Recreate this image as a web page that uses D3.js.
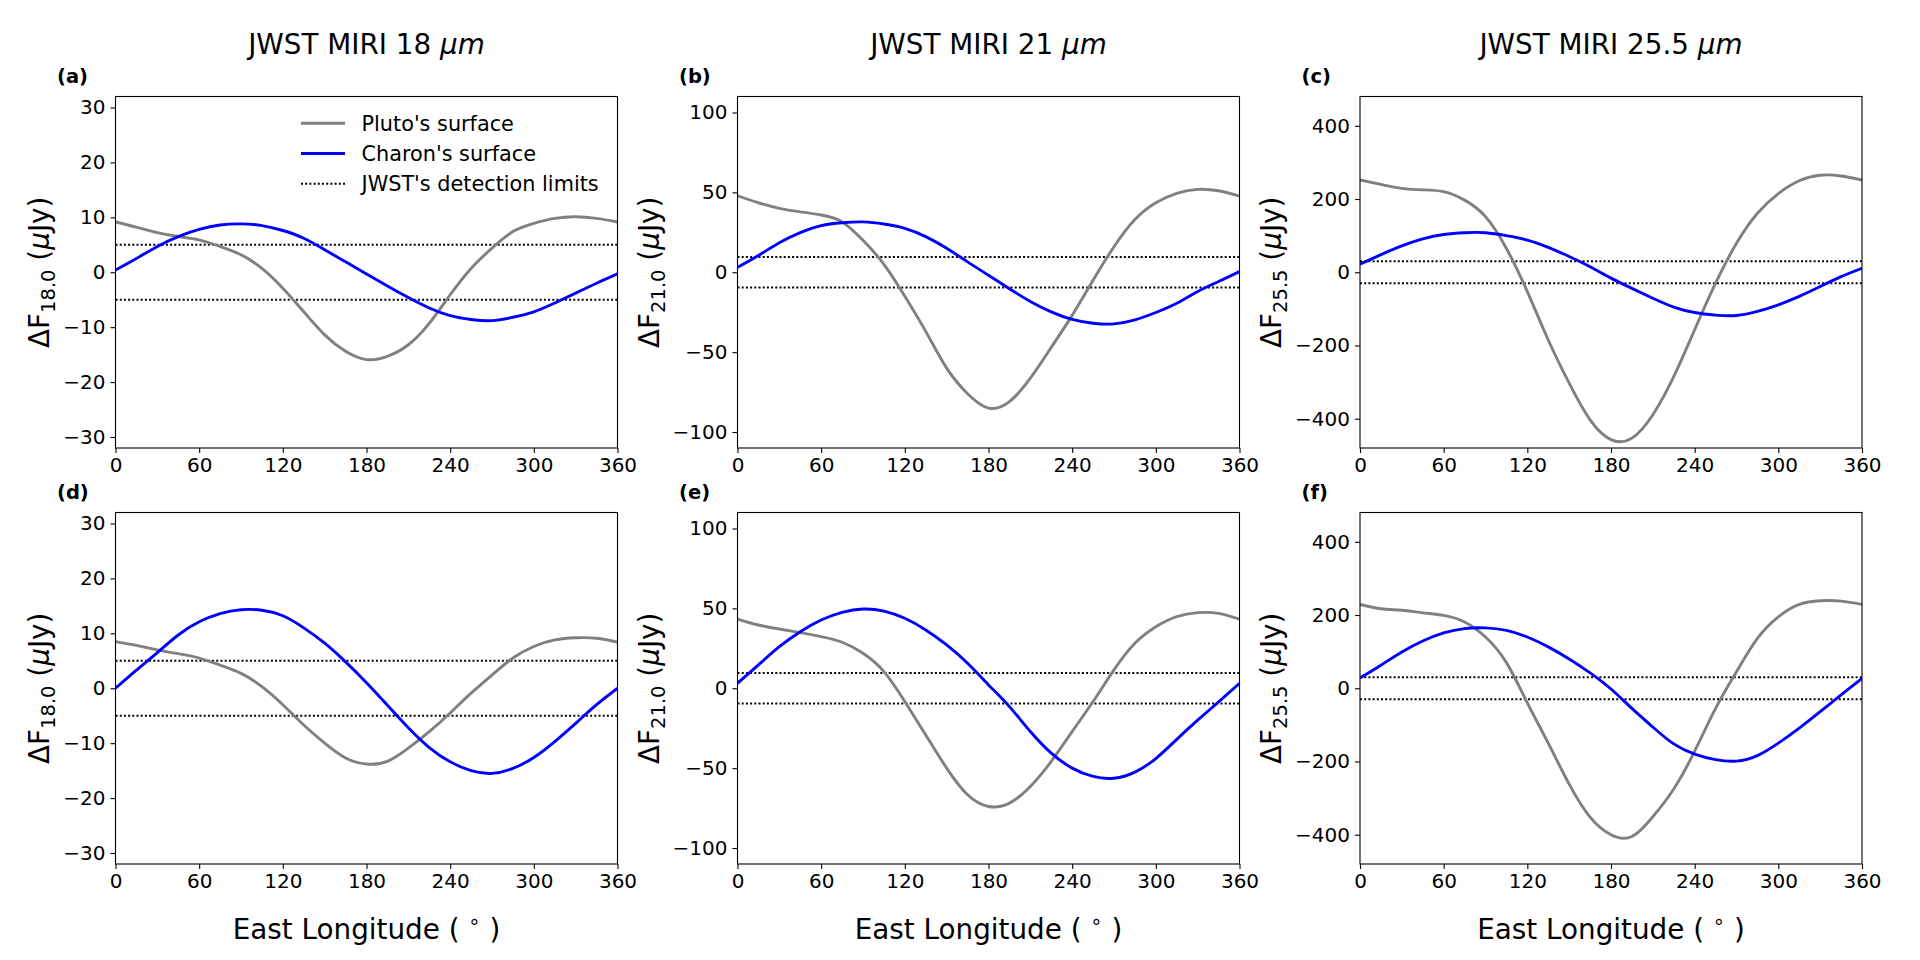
<!DOCTYPE html>
<html>
<head>
<meta charset="utf-8">
<script src="https://cdn.jsdelivr.net/npm/d3@7"></script>
<style>
  html, body { margin: 0; padding: 0; background: #fff; }
  text { font-family: "DejaVu Sans", sans-serif; fill: #000; }
</style>
</head>
<body>
<svg id="chart" width="1920" height="960"></svg>
<script>
// sample longitudes (deg east) used for every curve
var longitudes = [0, 15, 30, 45, 60, 75, 90, 105, 120, 135, 150, 165, 180,
                  195, 210, 225, 240, 255, 270, 285, 300, 315, 330, 345, 360];

// top row, 18 um
var plutoA  = [9.15, 8.2, 7.2, 6.5, 5.9, 4.7, 3.2, 0.7, -2.9, -7.2, -11.4, -14.4, -15.9,
               -15.3, -13.2, -9.3, -4.1, 0.7, 4.4, 7.4, 8.9, 9.8, 10.1, 9.8, 9.15];
var charonA = [0.4, 2.5, 4.7, 6.5, 7.8, 8.6, 8.8, 8.5, 7.6, 6.2, 4.1, 1.9, -0.3,
               -2.5, -4.6, -6.5, -7.9, -8.6, -8.8, -8.2, -7.2, -5.6, -3.8, -2.0, -0.3];
// top row, 21 um
var plutoB  = [47.9, 43.5, 40.0, 37.8, 35.8, 31.5, 20.0, 5.0, -15.0, -37.0, -60.0, -76.0, -85.0,
               -81.0, -66.3, -47.0, -27.0, -5.0, 16.0, 33.0, 43.5, 49.4, 51.9, 51.0, 47.7];
var charonB = [3.1, 10.5, 18.5, 24.8, 29.2, 31.0, 31.5, 30.2, 27.5, 22.3, 15.0, 6.5, -1.9,
               -10.3, -18.3, -24.8, -29.5, -31.9, -32.3, -29.8, -25.2, -19.4, -12.1, -5.8, 0.4];
// top row, 25.5 um
var plutoC  = [252, 240, 229, 225, 220, 197, 152, 65, -53, -185, -303, -403, -457,
               -453, -389, -285, -157, -30, 79, 161, 215, 250, 265, 263, 252];
var charonC = [22, 48, 72, 91, 103, 108, 108, 100, 88, 68, 43, 15, -16,
               -44, -71, -95, -110, -117, -118, -107, -89, -66, -39, -12, 11];
// bottom row, 18 um
var plutoD  = [8.5, 7.8, 7.0, 6.3, 5.5, 4.2, 2.7, 0.3, -3.0, -6.7, -10.0, -12.7, -13.8,
               -13.3, -10.9, -7.9, -4.5, -0.9, 2.4, 5.5, 7.6, 8.8, 9.2, 9.1, 8.4];
var charonD = [0, 3.3, 6.5, 9.7, 12.1, 13.6, 14.3, 14.2, 13.2, 11.0, 8.2, 4.8, 1.0,
               -3.1, -7.2, -10.8, -13.4, -15.0, -15.5, -14.6, -12.6, -9.7, -6.4, -3.0, 0];
// bottom row, 21 um
var plutoE  = [43.3, 39.6, 37.1, 34.8, 32.3, 28.8, 21.9, 10.4, -8.3, -29.2, -50.0, -66.7, -74.0,
               -71.9, -61.5, -45.8, -27.1, -8.3, 11.5, 28.1, 38.5, 44.8, 47.3, 46.9, 43.3];
var charonE = [3.1, 14.6, 26.0, 35.4, 42.7, 47.5, 49.6, 48.3, 43.8, 36.5, 27.1, 15.6, 2.1,
               -11.5, -27.1, -40.6, -50.0, -55.2, -56.3, -52.5, -44.0, -32.0, -20.0, -8.5, 3.1];
// bottom row, 25.5 um
var plutoF  = [229, 217, 213, 206, 199, 181, 140, 70, -40, -150, -262, -352, -400,
               -405, -351, -275, -172, -55, 45, 136, 195, 229, 239, 238, 229];
var charonF = [28, 63, 99, 129, 151, 163, 165, 158, 140, 113, 80, 42, -2,
               -55, -106, -152, -180, -195, -199, -184, -150, -109, -64, -18, 27];

// per-band settings (one per column)
var bandTitles   = ['18', '21', '25.5'];
var bandSubs     = ['18.0', '21.0', '25.5'];
var detectLimits = [5, 9.5, 30];
var yLimits      = [32, 110, 480];
var yTicks       = [[-30, -20, -10, 0, 10, 20, 30],
                    [-100, -50, 0, 50, 100],
                    [-400, -200, 0, 200, 400]];
var xTicks       = [0, 60, 120, 180, 240, 300, 360];
var panelLetters = ['a', 'b', 'c', 'd', 'e', 'f'];

var legendLabels = ["Pluto's surface", "Charon's surface", "JWST's detection limits"];

var plutoSeries  = [plutoA, plutoB, plutoC, plutoD, plutoE, plutoF];
var charonSeries = [charonA, charonB, charonC, charonD, charonE, charonF];

// layout
var colLeft = [115.5, 737.5, 1360];
var rowTop = [96.5, 512.5];
var plotW = 502, plotH = 351.5;

var PLUTO = 'gray', CHARON = 'blue';
var svg = d3.select('#chart');

var line = function(x, y) {
  return d3.line()
    .x(function(d) { return x(d[0]); })
    .y(function(d) { return y(d[1]); })
    .curve(d3.curveNatural);
};

// column titles
bandTitles.forEach(function(t, c) {
  var txt = svg.append('text')
    .attr('x', colLeft[c] + plotW / 2)
    .attr('y', 54)
    .attr('text-anchor', 'middle')
    .style('font-size', '27.8px');
  txt.append('tspan').text('JWST MIRI ' + t + ' ');
  txt.append('tspan').style('font-style', 'italic').text('μm');
});

panelLetters.forEach(function(letter, i) {
  var row = Math.floor(i / 3), col = i % 3;
  var left = colLeft[col], top = rowTop[row];

  var x = d3.scaleLinear().domain([0, 360]).range([0, plotW]);
  var y = d3.scaleLinear().domain([-yLimits[col], yLimits[col]]).range([plotH, 0]);

  var g = svg.append('g').attr('transform', 'translate(' + left + ',' + top + ')');

  // clip so curves stay inside the frame
  g.append('clipPath').attr('id', 'clip' + i)
    .append('rect').attr('width', plotW).attr('height', plotH);

  var plot = g.append('g').attr('clip-path', 'url(#clip' + i + ')');

  // detection limits
  [detectLimits[col], -detectLimits[col]].forEach(function(v) {
    plot.append('line')
      .attr('x1', 0).attr('x2', plotW)
      .attr('y1', y(v)).attr('y2', y(v))
      .attr('stroke', '#000')
      .attr('stroke-width', 2)
      .attr('stroke-dasharray', '2,2.2');
  });

  var pluto = longitudes.map(function(l, k) { return [l, plutoSeries[i][k]]; });
  var charon = longitudes.map(function(l, k) { return [l, charonSeries[i][k]]; });

  plot.append('path')
    .attr('d', line(x, y)(pluto))
    .attr('fill', 'none')
    .attr('stroke', PLUTO)
    .attr('stroke-width', 2.9);

  plot.append('path')
    .attr('d', line(x, y)(charon))
    .attr('fill', 'none')
    .attr('stroke', CHARON)
    .attr('stroke-width', 2.9);

  // axes
  var yAxis = g.append('g')
    .call(d3.axisLeft(y).tickValues(yTicks[col]).tickSize(5).tickPadding(5));
  var xAxis = g.append('g')
    .attr('transform', 'translate(0,' + plotH + ')')
    .call(d3.axisBottom(x).tickValues(xTicks).tickSize(5).tickPadding(5));

  [xAxis, yAxis].forEach(function(a) {
    a.select('.domain').remove();
    a.selectAll('.tick line').attr('stroke', '#000').attr('stroke-width', 1.1);
    a.selectAll('.tick text')
      .style('font-family', '"DejaVu Sans", sans-serif')
      .style('font-size', '20px')
      .attr('fill', '#000');
  });

  // frame
  g.append('rect')
    .attr('width', plotW).attr('height', plotH)
    .attr('fill', 'none')
    .attr('stroke', '#000')
    .attr('stroke-width', 1.1);

  // y label placed next to the widest tick label
  var widest = 0;
  yAxis.selectAll('.tick text').each(function() {
    widest = Math.max(widest, this.getComputedTextLength());
  });
  var yl = g.append('text')
    .attr('transform', 'translate(' + (-10 - widest - 14) + ',' + (plotH / 2) + ') rotate(-90)')
    .attr('text-anchor', 'middle')
    .style('font-size', '27.8px');
  yl.append('tspan').text('ΔF');
  yl.append('tspan').attr('dy', 6).style('font-size', '19.5px').text(bandSubs[col]);
  yl.append('tspan').attr('dy', -6).text(' (');
  yl.append('tspan').style('font-style', 'italic').text('μ');
  yl.append('tspan').text('Jy)');

  // panel letter
  g.append('text')
    .attr('x', -58.5)
    .attr('y', -14)
    .style('font-size', '19.5px')
    .style('font-weight', 'bold')
    .text('(' + letter + ')');

  // x label only on the bottom row
  if (row === 1) {
    var xl = g.append('text')
      .attr('x', plotW / 2)
      .attr('y', 939 - top)
      .attr('text-anchor', 'middle')
      .style('font-size', '27.8px');
    xl.append('tspan').text('East Longitude ( ');
    xl.append('tspan').attr('dy', -11).style('font-size', '19.5px').text('∘');
    xl.append('tspan').attr('dy', 11).text(' )');
  }

  // legend lives in panel (a)
  if (i === 0) {
    var lg = g.append('g').attr('transform', 'translate(' + (301 - left) + ',' + (123.3 - top) + ')');
    var styles = [
      {stroke: PLUTO, width: 2.9, dash: null},
      {stroke: CHARON, width: 2.9, dash: null},
      {stroke: '#000', width: 2, dash: '2,2.2'}
    ];
    legendLabels.forEach(function(label, k) {
      var row = lg.append('g').attr('transform', 'translate(0,' + (k * 30.2) + ')');
      row.append('line')
        .attr('x1', 0).attr('x2', 44)
        .attr('stroke', styles[k].stroke)
        .attr('stroke-width', styles[k].width)
        .attr('stroke-dasharray', styles[k].dash);
      row.append('text')
        .attr('x', 60.5)
        .attr('y', 7.2)
        .style('font-size', '20.8px')
        .text(label);
    });
  }
});
</script>
</body>
</html>
